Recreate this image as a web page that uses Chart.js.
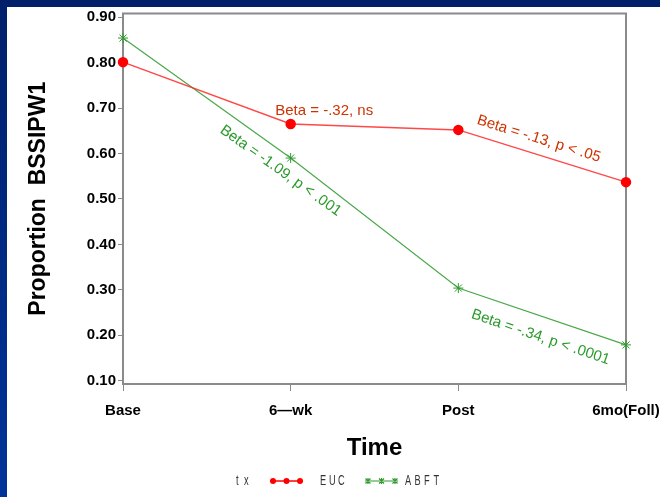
<!DOCTYPE html>
<html>
<head>
<meta charset="utf-8">
<script src="https://cdn.jsdelivr.net/npm/chart.js@4.4.1/dist/chart.umd.min.js"></script>
<style>
html, body { margin: 0; padding: 0; }
body { width: 660px; height: 497px; background: linear-gradient(#00206a, #003399); position: relative; overflow: hidden; }
#wrap { position: absolute; left: 7px; top: 7px; width: 653px; height: 490px; background: #fff; }
</style>
</head>
<body>
<div id="wrap"><canvas id="chart" width="653" height="490"></canvas></div>
<script>
'use strict';

var timeLabels = ['Base', '6\u2014wk', 'Post', '6mo(Foll)'];
var eucValues = [0.801, 0.665, 0.652, 0.537];
var abftValues = [0.854, 0.590, 0.304, 0.179];
var yTickValues = [0.10, 0.20, 0.30, 0.40, 0.50, 0.60, 0.70, 0.80, 0.90];

// beta notes: placed in data units, rotated along a segment of a series
var noteTexts = ['Beta = -.32, ns', 'Beta = -.13, p < .05', 'Beta = -1.09, p < .001', 'Beta = -.34, p < .0001'];
var noteAt = [1.2, 2.48, 0.94, 2.49];
var noteValue = [0.694, 0.632, 0.562, 0.196];
var noteSeries = [0, 0, 1, 1];
var noteSegment = [null, 2, 0, 2];

var redText = '#cc3300';
var greenText = '#2a9a2a';
var frameGray = '#8a8a8a';
var fontFamily = '"Liberation Sans", Arial, Helvetica, sans-serif';

var framePlugin = {
    id: 'frame',
    beforeDatasetsDraw: function (chart) {
        var a = chart.chartArea, ctx = chart.ctx;
        ctx.save();
        ctx.strokeStyle = frameGray;
        ctx.lineWidth = 2;
        ctx.strokeRect(a.left, a.top, a.right - a.left, a.bottom - a.top);
        ctx.restore();
    }
};

var notesPlugin = {
    id: 'betaNotes',
    afterDatasetsDraw: function (chart) {
        var ctx = chart.ctx, xs = chart.scales.x, ys = chart.scales.y;
        noteTexts.forEach(function (text, k) {
            var px = xs.getPixelForValue(noteAt[k]);
            var py = ys.getPixelForValue(noteValue[k]);
            var angle = 0;
            if (noteSegment[k] !== null) {
                var d = chart.data.datasets[noteSeries[k]].data, i = noteSegment[k];
                var x0 = xs.getPixelForValue(i), y0 = ys.getPixelForValue(d[i]);
                var x1 = xs.getPixelForValue(i + 1), y1 = ys.getPixelForValue(d[i + 1]);
                angle = Math.atan2(y1 - y0, x1 - x0);
            }
            ctx.save();
            ctx.translate(px, py);
            ctx.rotate(angle);
            ctx.font = '15px ' + fontFamily;
            ctx.fillStyle = noteSeries[k] === 0 ? redText : greenText;
            ctx.textAlign = 'center';
            ctx.textBaseline = 'middle';
            ctx.fillText(text, 0, 0);
            ctx.restore();
        });
    }
};

function drawNarrow(ctx, text, x, y, advance) {
    for (var i = 0; i < text.length; i++) {
        ctx.save();
        ctx.translate(x + i * advance, y);
        ctx.scale(0.66, 1);
        ctx.fillText(text[i], 0, 0);
        ctx.restore();
    }
}

var legendPlugin = {
    id: 'sasLegend',
    afterDraw: function (chart) {
        var ctx = chart.ctx, y = 474;
        var ds = chart.data.datasets;
        ctx.save();
        ctx.font = '14px ' + fontFamily;
        ctx.fillStyle = '#333';
        ctx.textAlign = 'left';
        ctx.textBaseline = 'middle';
        drawNarrow(ctx, 'tx', 229, y, 8);
        // EUC sample
        ctx.strokeStyle = '#ff0000';
        ctx.lineWidth = 1.5;
        ctx.beginPath(); ctx.moveTo(263, y); ctx.lineTo(296, y); ctx.stroke();
        ctx.fillStyle = '#ff0000';
        [266, 279.5, 293].forEach(function (cx) {
            ctx.beginPath(); ctx.arc(cx, y, 3, 0, Math.PI * 2); ctx.fill();
        });
        ctx.fillStyle = '#333';
        drawNarrow(ctx, ds[0].label, 313, y, 9);
        // ABFT sample
        ctx.strokeStyle = '#2e9a2e';
        ctx.lineWidth = 1.2;
        ctx.beginPath(); ctx.moveTo(358, y); ctx.lineTo(391, y); ctx.stroke();
        [361, 374.5, 388].forEach(function (cx) {
            ctx.beginPath();
            ctx.moveTo(cx - 2.5, y - 2.5); ctx.lineTo(cx + 2.5, y + 2.5);
            ctx.moveTo(cx - 2.5, y + 2.5); ctx.lineTo(cx + 2.5, y - 2.5);
            ctx.moveTo(cx, y - 3); ctx.lineTo(cx, y + 3);
            ctx.stroke();
        });
        drawNarrow(ctx, ds[1].label, 398, y, 9.5);
        ctx.restore();
    }
};

new Chart(document.getElementById('chart').getContext('2d'), {
    type: 'line',
    data: {
        labels: timeLabels,
        datasets: [
            {
                label: 'EUC',
                data: eucValues,
                borderColor: 'rgba(255,40,40,0.85)',
                borderWidth: 1.5,
                pointStyle: 'circle',
                pointRadius: 4.5,
                pointBackgroundColor: '#ff0000',
                pointBorderColor: '#ff0000',
                tension: 0,
                clip: false
            },
            {
                label: 'ABFT',
                data: abftValues,
                borderColor: '#4aa84a',
                borderWidth: 1.2,
                pointStyle: 'star',
                pointRadius: 5,
                pointBorderWidth: 1,
                pointBackgroundColor: '#2e9a2e',
                pointBorderColor: '#2e9a2e',
                tension: 0,
                clip: false
            }
        ]
    },
    options: {
        responsive: false,
        animation: false,
        devicePixelRatio: 1,
        layout: { padding: { left: 0, top: 6.5, right: 34, bottom: 0 } },
        plugins: {
            legend: { display: false },
            tooltip: { enabled: false }
        },
        scales: {
            x: {
                offset: false,
                afterFit: function (scale) {
                    scale.height = 113;
                    scale.paddingLeft = 0;
                    scale.paddingRight = 0;
                },
                grid: { display: true, drawOnChartArea: false, drawTicks: true, tickLength: 7, color: frameGray },
                border: { display: false },
                ticks: {
                    color: '#000',
                    padding: 11,
                    maxRotation: 0,
                    autoSkip: false,
                    font: { family: fontFamily, size: 15, weight: 'bold' }
                },
                title: {
                    display: true,
                    text: 'Time',
                    color: '#000',
                    padding: { top: 0, bottom: 34 },
                    font: { family: fontFamily, size: 24, weight: 'bold' }
                }
            },
            y: {
                min: 0.093,
                max: 0.908,
                afterFit: function (scale) {
                    scale.width = 116;
                    scale.paddingTop = 0;
                    scale.paddingBottom = 0;
                },
                afterBuildTicks: function (scale) {
                    scale.ticks = yTickValues.map(function (v) { return { value: v }; });
                },
                grid: { display: true, drawOnChartArea: false, drawTicks: true, tickLength: 5, color: frameGray },
                border: { display: false },
                ticks: {
                    color: '#000',
                    padding: 2,
                    font: { family: fontFamily, size: 15, weight: 'bold' },
                    callback: function (v) { return Number(v).toFixed(2); }
                },
                title: {
                    display: true,
                    text: 'Proportion  BSSIPW1',
                    color: '#000',
                    padding: { top: 18, bottom: 0 },
                    font: { family: fontFamily, size: 23, weight: 'bold' }
                }
            }
        }
    },
    plugins: [framePlugin, notesPlugin, legendPlugin]
});
</script>
</body>
</html>
